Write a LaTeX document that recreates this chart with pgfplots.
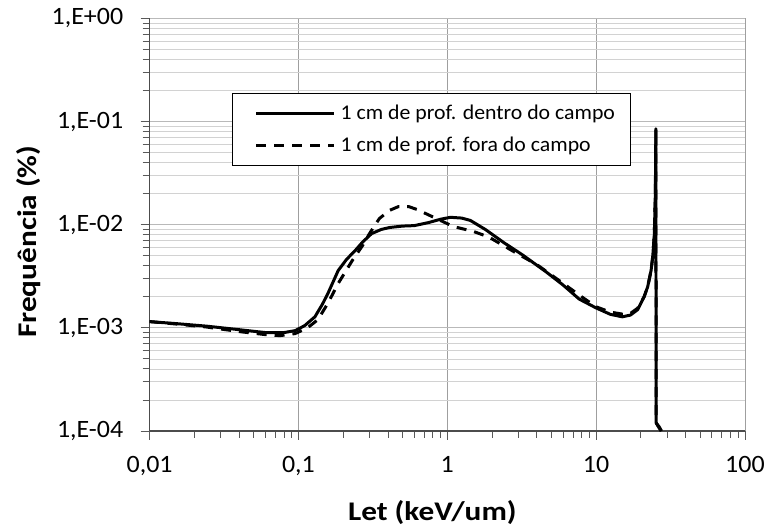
\documentclass[border=0pt]{standalone}
\usepackage{pgfplots}
\pgfplotsset{compat=1.18}
\usepackage{fontspec}
\setmainfont{Carlito}
\newfontfamily\tickfont[FakeStretch=1.04]{Carlito}
\newfontfamily\labelfont[FakeStretch=1.16]{Carlito}
\newfontfamily\legfont[FakeStretch=1.04]{Carlito}

% LET spectra at 1 cm depth, inside and outside the field
\pgfplotstableread{
x y
0.010 1.15e-3
0.015 1.10e-3
0.024 1.04e-3
0.040 9.6e-4
0.060 9.0e-4
0.080 9.0e-4
0.095 9.4e-4
0.110 1.05e-3
0.129 1.28e-3
0.145 1.70e-3
0.158 2.17e-3
0.185 3.6e-3
0.210 4.6e-3
0.240 5.6e-3
0.270 6.8e-3
0.310 8.2e-3
0.360 9.0e-3
0.410 9.4e-3
0.500 9.7e-3
0.600 9.8e-3
0.750 1.05e-2
0.900 1.13e-2
1.05 1.18e-2
1.25 1.16e-2
1.43 1.10e-2
1.80 9.0e-3
2.40 6.7e-3
3.20 5.1e-3
4.60 3.5e-3
6.00 2.6e-3
7.70 1.9e-3
10.0 1.56e-3
12.5 1.35e-3
15.0 1.28e-3
17.0 1.33e-3
19.0 1.50e-3
21.0 2.0e-3
22.2 2.5e-3
23.4 3.6e-3
24.0 4.9e-3
24.6 8.0e-3
25.0 2.0e-2
25.2 8.5e-2
25.3 1.2e-4
26.0 1.12e-4
27.3 1.0e-4
}\dentro

\pgfplotstableread{
x y
0.010 1.15e-3
0.015 1.09e-3
0.024 1.02e-3
0.040 9.2e-4
0.060 8.6e-4
0.075 8.4e-4
0.095 8.8e-4
0.115 1.0e-3
0.135 1.2e-3
0.158 1.74e-3
0.185 2.7e-3
0.230 4.5e-3
0.270 6.3e-3
0.300 8.2e-3
0.350 1.15e-2
0.410 1.38e-2
0.470 1.50e-2
0.550 1.50e-2
0.630 1.40e-2
0.810 1.18e-2
1.10 9.6e-3
1.50 8.6e-3
1.90 7.6e-3
2.85 5.4e-3
4.00 4.1e-3
6.00 2.7e-3
8.00 2.0e-3
10.0 1.6e-3
12.5 1.42e-3
15.0 1.36e-3
17.0 1.38e-3
19.0 1.55e-3
21.0 2.0e-3
22.2 2.5e-3
23.4 3.6e-3
24.0 4.9e-3
24.6 8.0e-3
25.0 2.0e-2
25.2 8.5e-2
25.3 1.2e-4
26.5 1.1e-4
27.5 1.0e-4
}\fora

\begin{document}
\begin{tikzpicture}
\begin{axis}[
  scale only axis,
  width=596.7pt, height=413.5pt,
  xmode=log, ymode=log,
  xmin=0.01, xmax=100, ymin=1e-4, ymax=1,
  axis lines=left,
  axis line style={gray!60!black, line width=1.2pt, -},
  xtick={0.01,0.1,1,10,100},
  xticklabels={{0,01},{0,1},1,10,100},
  ytick={1e-4,1e-3,1e-2,1e-1,1},
  yticklabels={{1,E-04},{1,E-03},{1,E-02},{1,E-01},{1,E+00}},
  /pgf/number format/assume math mode=true,
  tick align=outside,
  major tick length=9pt, minor tick length=7pt,
  tick style={gray!70!black, line width=0.9pt},
  xmajorgrids=true, ymajorgrids=true, yminorgrids=true,
  major grid style={gray!55, line width=0.8pt},
  minor grid style={gray!35, line width=0.8pt},
  x grid style={gray!75, line width=0.8pt},
  ticklabel style={font=\tickfont\fontsize{25}{28}\selectfont, black},
  xticklabel style={yshift=-13pt},
  yticklabel style={xshift=-14pt},
  xlabel={Let (keV/um)},
  ylabel={Frequência (\%)},
  label style={font=\labelfont\bfseries\fontsize{27}{30}\selectfont},
  xlabel style={yshift=-18pt, xshift=-15pt},
  ylabel style={yshift=4pt, xshift=-17pt},
  legend style={
    at={(rel axis cs:0.139,0.82)}, anchor=north west,
    draw=black, line width=1pt,
    font=\legfont\fontsize{21}{24}\selectfont,
    inner xsep=14pt, inner ysep=10pt,
    row sep=12pt,
    cells={anchor=west},
  },
  legend image code/.code={
    \draw[#1] (0pt,0pt) -- (78pt,0pt);
    \path (-8pt,0pt) (81pt,0pt);
  },
  clip=false,
]
\addplot[black, line width=3pt, line join=round] table[x=x,y=y] {\dentro};
\addlegendentry{1 cm de prof. dentro do campo}
\addplot[black, line width=3pt, dash pattern=on 10pt off 8pt] table[x=x,y=y] {\fora};
\addlegendentry{1 cm de prof. fora do campo}
\end{axis}
\path (-150pt,-94pt) rectangle (618pt,432pt);
\end{tikzpicture}
\end{document}
